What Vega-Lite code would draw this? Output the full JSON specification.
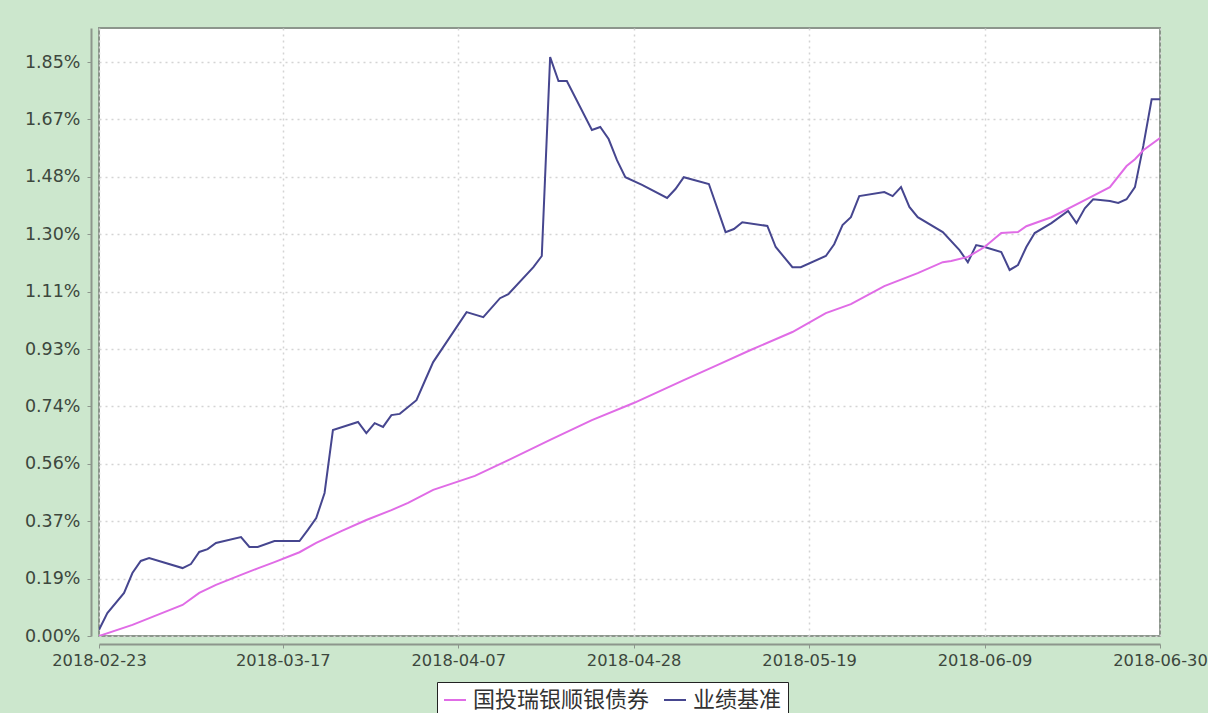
{
  "$schema": "https://vega.github.io/schema/vega-lite/v6.json",
  "autosize": {"type": "none"},
  "width": 1061,
  "height": 608,
  "padding": {"left": 99, "top": 28, "right": 48, "bottom": 77},
  "background": "#cce7cd",
  "config": {
    "view": {"fill": "white", "stroke": "#8c968c", "strokeWidth": 2},
    "font": "DejaVu Sans"
  },
  "data": {
    "values": [
      {"date": "2018-02-23", "series": "业绩基准", "value": 0.02},
      {"date": "2018-02-24", "series": "业绩基准", "value": 0.074},
      {"date": "2018-02-26", "series": "业绩基准", "value": 0.139},
      {"date": "2018-02-27", "series": "业绩基准", "value": 0.203},
      {"date": "2018-02-28", "series": "业绩基准", "value": 0.242},
      {"date": "2018-03-01", "series": "业绩基准", "value": 0.251},
      {"date": "2018-03-05", "series": "业绩基准", "value": 0.219},
      {"date": "2018-03-06", "series": "业绩基准", "value": 0.232},
      {"date": "2018-03-07", "series": "业绩基准", "value": 0.271},
      {"date": "2018-03-08", "series": "业绩基准", "value": 0.28},
      {"date": "2018-03-09", "series": "业绩基准", "value": 0.3},
      {"date": "2018-03-12", "series": "业绩基准", "value": 0.319},
      {"date": "2018-03-13", "series": "业绩基准", "value": 0.287},
      {"date": "2018-03-14", "series": "业绩基准", "value": 0.287},
      {"date": "2018-03-16", "series": "业绩基准", "value": 0.306},
      {"date": "2018-03-19", "series": "业绩基准", "value": 0.306},
      {"date": "2018-03-20", "series": "业绩基准", "value": 0.342},
      {"date": "2018-03-21", "series": "业绩基准", "value": 0.38},
      {"date": "2018-03-22", "series": "业绩基准", "value": 0.461},
      {"date": "2018-03-23", "series": "业绩基准", "value": 0.664},
      {"date": "2018-03-26", "series": "业绩基准", "value": 0.69},
      {"date": "2018-03-27", "series": "业绩基准", "value": 0.654},
      {"date": "2018-03-28", "series": "业绩基准", "value": 0.686},
      {"date": "2018-03-29", "series": "业绩基准", "value": 0.674},
      {"date": "2018-03-30", "series": "业绩基准", "value": 0.712},
      {"date": "2018-03-31", "series": "业绩基准", "value": 0.716},
      {"date": "2018-04-02", "series": "业绩基准", "value": 0.76},
      {"date": "2018-04-03", "series": "业绩基准", "value": 0.822},
      {"date": "2018-04-04", "series": "业绩基准", "value": 0.883},
      {"date": "2018-04-08", "series": "业绩基准", "value": 1.044},
      {"date": "2018-04-10", "series": "业绩基准", "value": 1.028},
      {"date": "2018-04-12", "series": "业绩基准", "value": 1.089},
      {"date": "2018-04-13", "series": "业绩基准", "value": 1.102},
      {"date": "2018-04-16", "series": "业绩基准", "value": 1.189},
      {"date": "2018-04-17", "series": "业绩基准", "value": 1.225},
      {"date": "2018-04-18", "series": "业绩基准", "value": 1.866},
      {"date": "2018-04-19", "series": "业绩基准", "value": 1.789},
      {"date": "2018-04-20", "series": "业绩基准", "value": 1.789},
      {"date": "2018-04-23", "series": "业绩基准", "value": 1.631},
      {"date": "2018-04-24", "series": "业绩基准", "value": 1.641},
      {"date": "2018-04-25", "series": "业绩基准", "value": 1.602},
      {"date": "2018-04-26", "series": "业绩基准", "value": 1.534},
      {"date": "2018-04-27", "series": "业绩基准", "value": 1.479},
      {"date": "2018-04-29", "series": "业绩基准", "value": 1.454},
      {"date": "2018-05-02", "series": "业绩基准", "value": 1.412},
      {"date": "2018-05-03", "series": "业绩基准", "value": 1.441},
      {"date": "2018-05-04", "series": "业绩基准", "value": 1.479},
      {"date": "2018-05-07", "series": "业绩基准", "value": 1.457},
      {"date": "2018-05-09", "series": "业绩基准", "value": 1.302},
      {"date": "2018-05-10", "series": "业绩基准", "value": 1.312},
      {"date": "2018-05-11", "series": "业绩基准", "value": 1.334},
      {"date": "2018-05-14", "series": "业绩基准", "value": 1.322},
      {"date": "2018-05-15", "series": "业绩基准", "value": 1.254},
      {"date": "2018-05-17", "series": "业绩基准", "value": 1.189},
      {"date": "2018-05-18", "series": "业绩基准", "value": 1.189},
      {"date": "2018-05-21", "series": "业绩基准", "value": 1.225},
      {"date": "2018-05-22", "series": "业绩基准", "value": 1.263},
      {"date": "2018-05-23", "series": "业绩基准", "value": 1.325},
      {"date": "2018-05-24", "series": "业绩基准", "value": 1.35},
      {"date": "2018-05-25", "series": "业绩基准", "value": 1.418},
      {"date": "2018-05-28", "series": "业绩基准", "value": 1.431},
      {"date": "2018-05-29", "series": "业绩基准", "value": 1.418},
      {"date": "2018-05-30", "series": "业绩基准", "value": 1.447},
      {"date": "2018-05-31", "series": "业绩基准", "value": 1.383},
      {"date": "2018-06-01", "series": "业绩基准", "value": 1.35},
      {"date": "2018-06-04", "series": "业绩基准", "value": 1.302},
      {"date": "2018-06-06", "series": "业绩基准", "value": 1.244},
      {"date": "2018-06-07", "series": "业绩基准", "value": 1.205},
      {"date": "2018-06-08", "series": "业绩基准", "value": 1.26},
      {"date": "2018-06-09", "series": "业绩基准", "value": 1.254},
      {"date": "2018-06-11", "series": "业绩基准", "value": 1.238},
      {"date": "2018-06-12", "series": "业绩基准", "value": 1.18},
      {"date": "2018-06-13", "series": "业绩基准", "value": 1.196},
      {"date": "2018-06-14", "series": "业绩基准", "value": 1.254},
      {"date": "2018-06-15", "series": "业绩基准", "value": 1.299},
      {"date": "2018-06-17", "series": "业绩基准", "value": 1.331},
      {"date": "2018-06-19", "series": "业绩基准", "value": 1.37},
      {"date": "2018-06-20", "series": "业绩基准", "value": 1.331},
      {"date": "2018-06-21", "series": "业绩基准", "value": 1.379},
      {"date": "2018-06-22", "series": "业绩基准", "value": 1.408},
      {"date": "2018-06-24", "series": "业绩基准", "value": 1.402},
      {"date": "2018-06-25", "series": "业绩基准", "value": 1.396},
      {"date": "2018-06-26", "series": "业绩基准", "value": 1.408},
      {"date": "2018-06-27", "series": "业绩基准", "value": 1.447},
      {"date": "2018-06-28", "series": "业绩基准", "value": 1.58},
      {"date": "2018-06-29", "series": "业绩基准", "value": 1.73},
      {"date": "2018-06-30", "series": "业绩基准", "value": 1.73},

      {"date": "2018-02-23", "series": "国投瑞银顺银债券", "value": 0.0},
      {"date": "2018-02-27", "series": "国投瑞银顺银债券", "value": 0.036},
      {"date": "2018-03-02", "series": "国投瑞银顺银债券", "value": 0.068},
      {"date": "2018-03-05", "series": "国投瑞银顺银债券", "value": 0.1},
      {"date": "2018-03-07", "series": "国投瑞银顺银债券", "value": 0.139},
      {"date": "2018-03-09", "series": "国投瑞银顺银债券", "value": 0.165},
      {"date": "2018-03-12", "series": "国投瑞银顺银债券", "value": 0.197},
      {"date": "2018-03-14", "series": "国投瑞银顺银债券", "value": 0.218},
      {"date": "2018-03-16", "series": "国投瑞银顺银债券", "value": 0.238},
      {"date": "2018-03-19", "series": "国投瑞银顺银债券", "value": 0.27},
      {"date": "2018-03-21", "series": "国投瑞银顺银债券", "value": 0.3},
      {"date": "2018-03-24", "series": "国投瑞银顺银债券", "value": 0.338},
      {"date": "2018-03-27", "series": "国投瑞银顺银债券", "value": 0.374},
      {"date": "2018-03-30", "series": "国投瑞银顺银债券", "value": 0.406},
      {"date": "2018-04-01", "series": "国投瑞银顺银债券", "value": 0.429},
      {"date": "2018-04-04", "series": "国投瑞银顺银债券", "value": 0.471},
      {"date": "2018-04-09", "series": "国投瑞银顺银债券", "value": 0.516},
      {"date": "2018-04-13", "series": "国投瑞银顺银债券", "value": 0.567},
      {"date": "2018-04-18", "series": "国投瑞银顺银债券", "value": 0.632},
      {"date": "2018-04-23", "series": "国投瑞银顺银债券", "value": 0.696},
      {"date": "2018-04-28", "series": "国投瑞银顺银债券", "value": 0.751},
      {"date": "2018-05-04", "series": "国投瑞银顺银债券", "value": 0.825},
      {"date": "2018-05-08", "series": "国投瑞银顺银债券", "value": 0.873},
      {"date": "2018-05-12", "series": "国投瑞银顺银债券", "value": 0.922},
      {"date": "2018-05-17", "series": "国投瑞银顺银债券", "value": 0.98},
      {"date": "2018-05-21", "series": "国投瑞银顺银债券", "value": 1.041},
      {"date": "2018-05-24", "series": "国投瑞银顺银债券", "value": 1.07},
      {"date": "2018-05-28", "series": "国投瑞银顺银债券", "value": 1.128},
      {"date": "2018-06-01", "series": "国投瑞银顺银债券", "value": 1.17},
      {"date": "2018-06-04", "series": "国投瑞银顺银债券", "value": 1.205},
      {"date": "2018-06-05", "series": "国投瑞银顺银债券", "value": 1.209},
      {"date": "2018-06-07", "series": "国投瑞银顺银债券", "value": 1.222},
      {"date": "2018-06-09", "series": "国投瑞银顺银债券", "value": 1.254},
      {"date": "2018-06-11", "series": "国投瑞银顺银债券", "value": 1.299},
      {"date": "2018-06-13", "series": "国投瑞银顺银债券", "value": 1.302},
      {"date": "2018-06-14", "series": "国投瑞银顺银债券", "value": 1.321},
      {"date": "2018-06-17", "series": "国投瑞银顺银债券", "value": 1.35},
      {"date": "2018-06-21", "series": "国投瑞银顺银债券", "value": 1.405},
      {"date": "2018-06-24", "series": "国投瑞银顺银债券", "value": 1.447},
      {"date": "2018-06-26", "series": "国投瑞银顺银债券", "value": 1.515},
      {"date": "2018-06-27", "series": "国投瑞银顺银债券", "value": 1.537},
      {"date": "2018-06-28", "series": "国投瑞银顺银债券", "value": 1.566},
      {"date": "2018-06-30", "series": "国投瑞银顺银债券", "value": 1.605}
    ]
  },
  "mark": {"type": "line", "strokeWidth": 2, "clip": true},
  "encoding": {
    "x": {
      "field": "date",
      "type": "temporal",
      "scale": {
        "type": "utc",
        "domain": [
          {"year": 2018, "month": 2, "date": 23, "utc": true},
          {"year": 2018, "month": 6, "date": 30, "utc": true}
        ]
      },
      "axis": {
        "title": null,
        "labelExpr": "utcFormat(datum.value, '%Y-%m-%d')",
        "values": [
          {"year": 2018, "month": 2, "date": 23, "utc": true},
          {"year": 2018, "month": 3, "date": 17, "utc": true},
          {"year": 2018, "month": 4, "date": 7, "utc": true},
          {"year": 2018, "month": 4, "date": 28, "utc": true},
          {"year": 2018, "month": 5, "date": 19, "utc": true},
          {"year": 2018, "month": 6, "date": 9, "utc": true},
          {"year": 2018, "month": 6, "date": 30, "utc": true}
        ],
        "offset": 8,
        "domainColor": "#8c968c",
        "domainWidth": 2,
        "tickColor": "#8c968c",
        "tickSize": 4,
        "labelPadding": 4,
        "labelFont": "DejaVu Sans",
        "labelFontSize": 16.3,
        "labelColor": "#3d473d",
        "labelOverlap": false,
        "labelBound": false,
        "labelFlush": false,
        "grid": true,
        "gridColor": "#d4d4d4",
        "gridDash": [2, 4],
        "gridWidth": 1.5
      }
    },
    "y": {
      "field": "value",
      "type": "quantitative",
      "scale": {"domain": [0, 1.96], "nice": false, "zero": true},
      "axis": {
        "title": null,
        "values": [0, 0.1851, 0.37, 0.5551, 0.74, 0.9251, 1.11, 1.2951, 1.48, 1.6651, 1.85],
        "labelExpr": "format(datum.value, '.2f') + '%'",
        "offset": 8,
        "domainColor": "#8c968c",
        "domainWidth": 2,
        "tickColor": "#8c968c",
        "tickSize": 4,
        "labelPadding": 7,
        "labelFont": "DejaVu Sans",
        "labelFontSize": 17.5,
        "labelColor": "#3d473d",
        "labelOverlap": false,
        "grid": true,
        "gridColor": "#d4d4d4",
        "gridDash": [2, 4],
        "gridWidth": 1.5
      }
    },
    "color": {
      "field": "series",
      "type": "nominal",
      "scale": {
        "domain": ["国投瑞银顺银债券", "业绩基准"],
        "range": ["#e06ce6", "#46468f"]
      },
      "legend": {
        "title": null,
        "orient": "none",
        "legendX": 338,
        "legendY": 654,
        "direction": "horizontal",
        "symbolType": "stroke",
        "symbolSize": 484,
        "symbolStrokeWidth": 2,
        "labelFont": "Noto Sans CJK SC",
        "labelFontSize": 22,
        "labelLimit": 400,
        "labelColor": "#333333",
        "labelOffset": 6,
        "columnPadding": 10,
        "padding": 6,
        "strokeColor": "#222222",
        "fillColor": "#ffffff"
      }
    }
  }
}
